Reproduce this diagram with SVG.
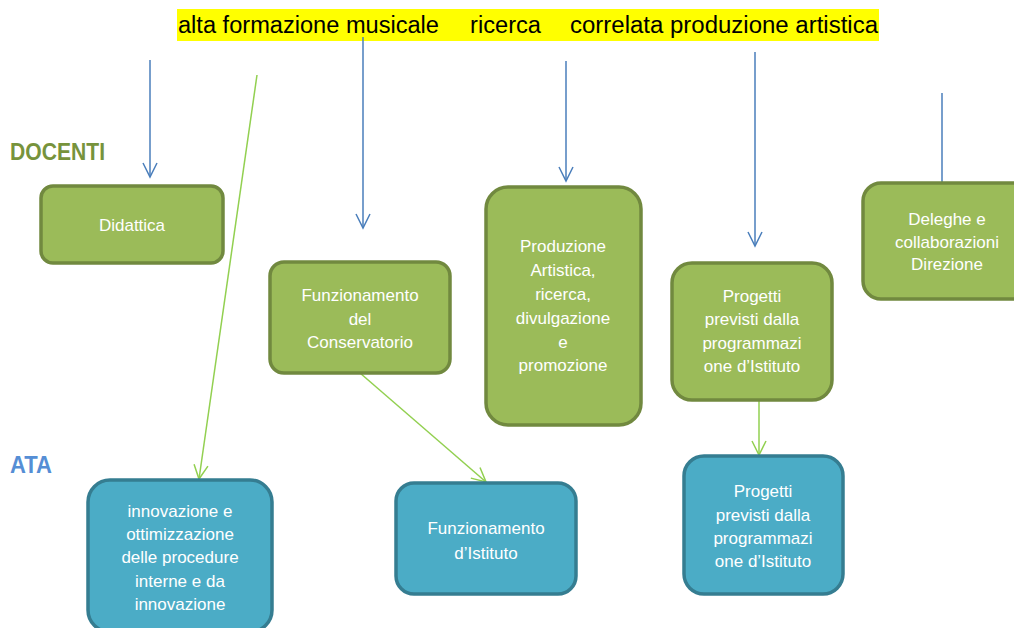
<svg xmlns="http://www.w3.org/2000/svg" width="1014" height="628" viewBox="0 0 1014 628">
<style>
.g{fill:#9BBB59;stroke:#71893F;stroke-width:3.5}
.b{fill:#4BACC6;stroke:#357D91;stroke-width:3.5}
.t{font-family:"Liberation Sans",Arial,sans-serif;font-size:17px;fill:#FFFFFF;text-anchor:middle}
.h{font-family:"Liberation Sans",Arial,sans-serif;font-size:23px;fill:#000000}
.lab{font-family:"Liberation Sans",Arial,sans-serif;font-size:23px;font-weight:bold}
.cb{stroke:#4A7EBB;stroke-width:1.5;fill:none}
.cg{stroke:#92D050;stroke-width:1.5;fill:none}
</style>
<defs>
<marker id="ab" markerUnits="userSpaceOnUse" markerWidth="20" markerHeight="20" viewBox="-10 -16 20 20" refX="0" refY="0" orient="auto-start-reverse">
<path d="M-14,-7 L0,0 L-14,7" transform="rotate(0)" fill="none" stroke="#4A7EBB" stroke-width="1.5"/>
</marker>
<marker id="ag" markerUnits="userSpaceOnUse" markerWidth="20" markerHeight="20" viewBox="-16 -10 20 20" refX="0" refY="0" orient="auto">
<path d="M-14,-7 L0,0 L-14,7" fill="none" stroke="#92D050" stroke-width="1.5"/>
</marker>
<marker id="ab2" markerUnits="userSpaceOnUse" markerWidth="20" markerHeight="20" viewBox="-16 -10 20 20" refX="0" refY="0" orient="auto">
<path d="M-14,-7 L0,0 L-14,7" fill="none" stroke="#4A7EBB" stroke-width="1.5"/>
</marker>
</defs>
<rect width="1014" height="628" fill="#FFFFFF"/>

<g id="title">
<rect x="177" y="9" width="702" height="32" fill="#FFFF00"/>
<text class="h" x="178" y="33" textLength="261" lengthAdjust="spacingAndGlyphs">alta formazione musicale</text>
<text class="h" x="470" y="33" textLength="71" lengthAdjust="spacingAndGlyphs">ricerca</text>
<text class="h" x="570" y="33" textLength="308" lengthAdjust="spacingAndGlyphs">correlata produzione artistica</text>
</g>

<g id="label-docenti"><text class="lab" x="10" y="160" fill="#77933C" textLength="95" lengthAdjust="spacingAndGlyphs">DOCENTI</text></g>
<g id="label-ata"><text class="lab" x="10" y="473" fill="#558ED5" textLength="42" lengthAdjust="spacingAndGlyphs">ATA</text></g>

<g id="connectors">
<line class="cb" x1="150" y1="60" x2="150" y2="177" marker-end="url(#ab2)"/>
<line class="cb" x1="363" y1="37" x2="363" y2="228" marker-end="url(#ab2)"/>
<line class="cb" x1="566" y1="61" x2="566" y2="181" marker-end="url(#ab2)"/>
<line class="cb" x1="755" y1="52" x2="755" y2="246" marker-end="url(#ab2)"/>
<line class="cb" x1="942" y1="93" x2="942" y2="182"/>
<line class="cg" x1="257" y1="75" x2="199" y2="479" marker-end="url(#ag)"/>
<line class="cg" x1="360" y1="373" x2="486" y2="482" marker-end="url(#ag)"/>
<line class="cg" x1="759" y1="400" x2="759" y2="455" marker-end="url(#ag)"/>
</g>

<g id="didattica">
<rect class="g" x="41" y="186" width="182" height="77" rx="12"/>
<text class="t" x="132" y="231">Didattica</text>
</g>

<g id="funzionamento-conservatorio">
<rect class="g" x="270" y="262" width="180" height="111" rx="14"/>
<text class="t" x="360" y="301">Funzionamento</text>
<text class="t" x="360" y="325">del</text>
<text class="t" x="360" y="348">Conservatorio</text>
</g>

<g id="produzione">
<rect class="g" x="486" y="187" width="155" height="238" rx="22"/>
<text class="t" x="563" y="252">Produzione</text>
<text class="t" x="563" y="276">Artistica,</text>
<text class="t" x="563" y="300">ricerca,</text>
<text class="t" x="563" y="324">divulgazione</text>
<text class="t" x="563" y="348">e</text>
<text class="t" x="563" y="371">promozione</text>
</g>

<g id="progetti-docenti">
<rect class="g" x="672" y="263" width="160" height="137" rx="20"/>
<text class="t" x="752" y="302">Progetti</text>
<text class="t" x="752" y="325">previsti dalla</text>
<text class="t" x="752" y="349">programmazi</text>
<text class="t" x="752" y="372">one d’Istituto</text>
</g>

<g id="deleghe">
<rect class="g" x="863" y="183" width="170" height="116" rx="18"/>
<text class="t" x="947" y="225">Deleghe e</text>
<text class="t" x="947" y="248">collaborazioni</text>
<text class="t" x="947" y="270">Direzione</text>
</g>

<g id="innovazione">
<rect class="b" x="88" y="480" width="184" height="152" rx="22"/>
<text class="t" x="180" y="517">innovazione e</text>
<text class="t" x="180" y="540">ottimizzazione</text>
<text class="t" x="180" y="563">delle procedure</text>
<text class="t" x="180" y="587">interne e da</text>
<text class="t" x="180" y="610">innovazione</text>
</g>

<g id="funzionamento-istituto">
<rect class="b" x="396" y="483" width="180" height="111" rx="18"/>
<text class="t" x="486" y="534">Funzionamento</text>
<text class="t" x="486" y="559">d’Istituto</text>
</g>

<g id="progetti-ata">
<rect class="b" x="684" y="456" width="159" height="138" rx="20"/>
<text class="t" x="763" y="497">Progetti</text>
<text class="t" x="763" y="521">previsti dalla</text>
<text class="t" x="763" y="544">programmazi</text>
<text class="t" x="763" y="567">one d’Istituto</text>
</g>
</svg>
